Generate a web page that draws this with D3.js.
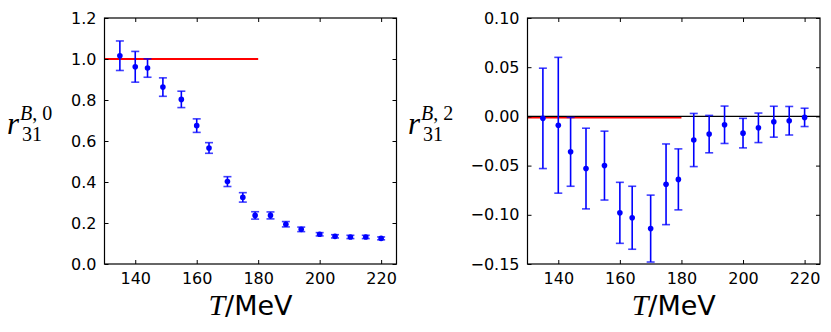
<!DOCTYPE html>
<html><head><meta charset="utf-8">
<script src="https://cdn.jsdelivr.net/npm/d3@7"></script>
<style>body{margin:0;background:#fff}svg{display:block}</style>
</head><body>
<svg id="c" width="831" height="332"></svg>
<script>
const temps = [135,140,144,149,155,160,164,170,175,179,184,189,194,200,205,210,215,220];
const r0 = [1.016,0.962,0.956,0.863,0.803,0.675,0.566,0.402,0.325,0.237,0.237,0.194,0.169,0.145,0.135,0.132,0.132,0.125];
const r0err = [0.072,0.075,0.045,0.045,0.040,0.033,0.026,0.024,0.023,0.018,0.017,0.013,0.011,0.008,0.008,0.008,0.008,0.007];
const r2 = [-0.002,-0.009,-0.036,-0.053,-0.050,-0.098,-0.103,-0.114,-0.069,-0.064,-0.024,-0.018,-0.0085,-0.017,-0.0116,-0.0054,-0.0044,-0.001];
const r2err = [0.051,0.069,0.035,0.041,0.035,0.031,0.032,0.034,0.041,0.031,0.027,0.019,0.019,0.015,0.015,0.0157,0.0145,0.0093];
const xTicks = [140,160,180,200,220];
const yTicks0 = [0,0.2,0.4,0.6,0.8,1.0,1.2];
const yTicks2 = [-0.15,-0.10,-0.05,0,0.05,0.10];
const refLine0 = {from:130,to:180,value:1.0};
const refLine2 = {from:130,to:180,value:-0.0012};

const svg = d3.select("#c");
const plotTop = 18, plotBottom = 264;

function panel(opt){
  const x = d3.scaleLinear().domain([130,225]).range([opt.left, opt.right]);
  const y = d3.scaleLinear().domain(opt.ydom).range([plotBottom, plotTop]);
  const g = svg.append("g");
  g.append("line").attr("x1",x(opt.ref.from)).attr("x2",x(opt.ref.to))
    .attr("y1",y(opt.ref.value)).attr("y2",y(opt.ref.value))
    .attr("stroke","#ff0000").attr("stroke-width",1.8);
  if(opt.zero){
    g.append("line").attr("x1",x(130)).attr("x2",x(225)).attr("y1",y(0)).attr("y2",y(0))
      .attr("stroke","#000").attr("stroke-width",1.3);
  }
  const eb = g.append("g").attr("stroke","#0000ff").attr("stroke-width",1.6);
  temps.forEach((t,i)=>{
    const v=opt.vals[i], e=opt.errs[i];
    eb.append("line").attr("x1",x(t)).attr("x2",x(t)).attr("y1",y(v-e)).attr("y2",y(v+e));
    [v-e,v+e].forEach(c=>eb.append("line").attr("x1",x(t)-4).attr("x2",x(t)+4).attr("y1",y(c)).attr("y2",y(c)).attr("stroke-opacity",0.75));
  });
  g.selectAll("circle.p").data(temps).enter().append("circle")
    .attr("cx",d=>x(d)).attr("cy",(d,i)=>y(opt.vals[i])).attr("r",2.8).attr("fill","#0000ff");
  const ax = g.append("g");
  ax.append("g").attr("transform",`translate(0,${plotBottom})`)
    .call(d3.axisBottom(x).tickValues(xTicks).tickSizeInner(-4).tickSizeOuter(0).tickPadding(9));
  ax.append("g").attr("transform",`translate(0,${plotTop})`)
    .call(d3.axisTop(x).tickValues(xTicks).tickSizeInner(-4).tickSizeOuter(0).tickFormat(""));
  ax.append("g").attr("transform",`translate(${opt.left},0)`)
    .call(d3.axisLeft(y).tickValues(opt.yticks).tickSizeInner(-4).tickSizeOuter(0).tickPadding(8).tickFormat(opt.fmt));
  ax.append("g").attr("transform",`translate(${opt.right},0)`)
    .call(d3.axisRight(y).tickValues(opt.yticks).tickSizeInner(-4).tickSizeOuter(0).tickFormat(""));
  ax.selectAll(".domain").remove();
  ax.selectAll("g").attr("font-family","DejaVu Sans").attr("font-size",16);
  ax.selectAll("text").attr("fill","#000");
  ax.selectAll(".tick line").attr("stroke","#000");
  g.append("rect").attr("x",opt.left).attr("y",plotTop).attr("width",opt.right-opt.left).attr("height",plotBottom-plotTop)
    .attr("fill","none").attr("stroke","#000").attr("stroke-width",1.2);
  const cx = (opt.left+opt.right)/2;
  const xl = g.append("text").attr("x",cx).attr("y",315).attr("text-anchor","middle").attr("font-size",27);
  xl.append("tspan").attr("font-family","Liberation Serif").attr("font-style","italic").attr("font-size",30).text("T");
  xl.append("tspan").attr("font-family","DejaVu Sans").text("/MeV");
  const lx = opt.lx;
  g.append("text").attr("x",lx).attr("y",134).attr("font-family","Liberation Serif").attr("font-style","italic").attr("font-size",31).text("r");
  const sup = g.append("text").attr("x",lx+13).attr("y",120).attr("font-family","Liberation Serif").attr("font-size",20);
  sup.append("tspan").attr("font-style","italic").text("B");
  sup.append("tspan").text(", "+opt.sup);
  g.append("text").attr("x",lx+15).attr("y",141).attr("font-family","Liberation Serif").attr("font-size",20).text("31");
}

panel({left:104.5,right:396.5,ydom:[0,1.2],vals:r0,errs:r0err,yticks:yTicks0,ref:refLine0,zero:false,
  fmt:d3.format(".1f"),lx:7,sup:"0"});
panel({left:527.5,right:820,ydom:[-0.15,0.10],vals:r2,errs:r2err,yticks:yTicks2,ref:refLine2,zero:true,
  fmt:d=>d3.format(".2f")(d).replace("-","\u2212"),lx:408,sup:"2"});
</script>
</body></html>
